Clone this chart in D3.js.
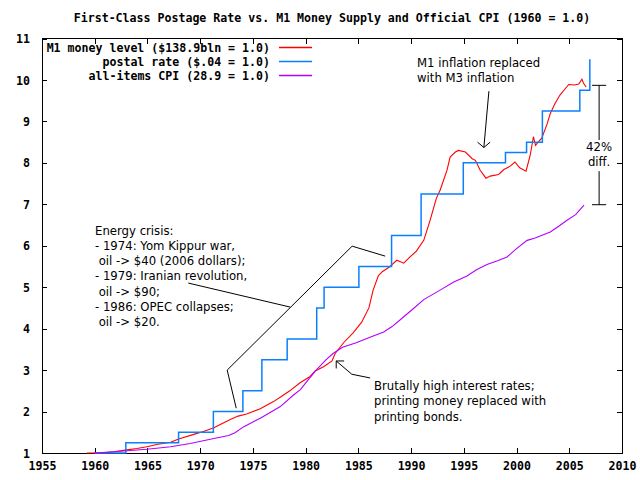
<!DOCTYPE html>
<html><head><meta charset="utf-8">
<script src="https://cdn.jsdelivr.net/npm/d3@7"></script>
<style>body{margin:0;background:#fff}</style>
</head><body><svg id="c" width="640" height="480"></svg>
<script>
// ---- data ----
const m1Years = [1959.25,1960.0,1961.0,1961.8,1962.9,1964.0,1964.95,1966.0,1967.2,1967.95,1969.4,1970.3,1971.3,1972.0,1972.85,1973.6,1974.4,1975.7,1976.95,1977.8,1978.5,1979.5,1980.4,1980.9,1981.7,1982.5,1982.8,1983.6,1984.5,1985.3,1986.0,1986.4,1986.9,1987.3,1987.9,1988.65,1989.3,1989.9,1990.5,1991.2,1991.8,1992.4,1992.75,1993.4,1993.7,1994.2,1994.5,1995.15,1995.8,1996.1,1996.55,1997.1,1997.5,1998.3,1998.8,1999.4,1999.85,2000.3,2000.9,2001.3,2001.6,2001.8,2002.4,2002.9,2003.2,2003.65,2004.1,2004.65,2004.95,2005.5,2005.9,2006.2,2006.35,2006.6];
const m1Values = [1.00,1.00,1.01,1.03,1.07,1.11,1.15,1.21,1.26,1.34,1.45,1.52,1.61,1.70,1.81,1.89,1.94,2.07,2.24,2.38,2.50,2.70,2.84,2.98,3.08,3.22,3.40,3.66,3.90,4.15,4.50,4.93,5.28,5.38,5.48,5.65,5.58,5.73,5.87,6.13,6.61,7.15,7.34,7.82,8.14,8.26,8.30,8.26,8.10,8.06,7.82,7.63,7.68,7.72,7.84,7.92,8.02,7.88,7.80,8.19,8.63,8.42,8.60,8.94,9.19,9.43,9.63,9.80,9.89,9.88,9.90,10.02,9.92,9.83];
const cpiYears = [1959.9,1961.8,1964.95,1967.2,1969.05,1971.3,1972.7,1973.3,1974.1,1975.7,1977.6,1978.85,1979.5,1980.2,1981.0,1981.9,1982.6,1983.5,1984.8,1986.1,1987.4,1988.2,1989.0,1990.2,1991.2,1992.75,1994.0,1995.3,1996.2,1997.2,1998.2,1999.1,2000.0,2001.0,2001.7,2003.2,2004.0,2004.75,2005.6,2006.4];
const cpiValues = [1.00,1.03,1.09,1.15,1.23,1.35,1.42,1.49,1.63,1.84,2.12,2.40,2.53,2.75,3.00,3.24,3.40,3.55,3.66,3.79,3.92,4.05,4.22,4.48,4.70,4.93,5.12,5.27,5.42,5.55,5.64,5.73,5.93,6.13,6.18,6.33,6.47,6.61,6.75,6.98];
const postalYears = [1960.0,1962.95,1967.95,1971.25,1974.05,1975.85,1978.25,1981.05,1981.75,1985.05,1988.15,1990.95,1994.95,1998.95,2000.95,2002.45,2006.0,2006.95];
const postalCents = [4,5,6,8,10,13,15,18,20,22,25,29,32,33,34,37,39,42];
const postalBase = 4;
const xTicks = [1955,1960,1965,1970,1975,1980,1985,1990,1995,2000,2005,2010];
const yTicks = [1,2,3,4,5,6,7,8,9,10,11];
const titleText = "First-Class Postage Rate vs. M1 Money Supply and Official CPI (1960 = 1.0)";
const legendLabels = ["M1 money level ($138.9bln = 1.0)", "postal rate ($.04 = 1.0)", "all-items CPI (28.9 = 1.0)"];
const seriesColors = ["#ff0000", "#0a80ff", "#b400ff"];
const energyText = ["Energy crisis:", "- 1974: Yom Kippur war,", " oil -> $40 (2006 dollars);", "- 1979: Iranian revolution,", " oil -> $90;", "- 1986: OPEC collapses;", " oil -> $20."];
const m3Text = ["M1 inflation replaced", "with M3 inflation"];
const ratesText = ["Brutally high interest rates;", "printing money replaced with", "printing bonds."];

// ---- layout ----
const L = 42, R = 622, T = 38.5, B = 453;
const svg = d3.select("#c");
const x = d3.scaleLinear().domain([1955, 2010]).range([L, R]);
const y = d3.scaleLinear().domain([1, 11]).range([B, T]);
const mono = "'DejaVu Sans Mono', monospace";
const sans = "'DejaVu Sans', sans-serif";

svg.append("rect").attr("width", 640).attr("height", 480).attr("fill", "#fff");

// title
svg.append("text").attr("x", (L + R) / 2).attr("y", 22).attr("text-anchor", "middle")
  .attr("font-family", mono).attr("font-weight", "bold").attr("font-size", "11.6px").text(titleText);

// axes (ticks inward all sides)
const tl = 5;
const axB = svg.append("g").attr("transform", `translate(0,${B})`)
  .call(d3.axisBottom(x).tickValues(xTicks).tickFormat(d3.format("d")).tickSizeInner(-tl).tickSizeOuter(0).tickPadding(9));
const axT = svg.append("g").attr("transform", `translate(0,${T})`)
  .call(d3.axisTop(x).tickValues(xTicks).tickFormat("").tickSizeInner(-tl).tickSizeOuter(0));
const axL = svg.append("g").attr("transform", `translate(${L},0)`)
  .call(d3.axisLeft(y).tickValues(yTicks).tickFormat(d3.format("d")).tickSizeInner(-tl).tickSizeOuter(0).tickPadding(12));
const axR = svg.append("g").attr("transform", `translate(${R},0)`)
  .call(d3.axisRight(y).tickValues(yTicks).tickFormat("").tickSizeInner(-tl).tickSizeOuter(0));
[axB, axT, axL, axR].forEach(g => {
  g.select(".domain").remove();
  g.selectAll("line").attr("stroke", "#000").attr("shape-rendering", "crispEdges");
  g.selectAll("text").attr("font-family", mono).attr("font-weight", "bold").attr("font-size", "11.6px").attr("fill", "#000");
});
axL.selectAll("text").attr("dy", "0.35em");
svg.append("rect").attr("x", L).attr("y", T).attr("width", R - L).attr("height", B - T)
  .attr("fill", "none").attr("stroke", "#000").attr("shape-rendering", "crispEdges");

// series
const lineGen = d3.line().x(d => x(d[0])).y(d => y(d[1]));
const stepGen = d3.line().x(d => x(d[0])).y(d => y(d[1])).curve(d3.curveStepAfter);
const m1 = m1Years.map((d, i) => [d, m1Values[i]]);
const cpi = cpiYears.map((d, i) => [d, cpiValues[i]]);
const postal = postalYears.map((d, i) => [d, postalCents[i] / postalBase]);

svg.append("path").attr("d", lineGen(m1)).attr("fill", "none").attr("stroke", seriesColors[0]).attr("stroke-width", 1.1);
svg.append("path").attr("d", stepGen(postal)).attr("fill", "none").attr("stroke", seriesColors[1]).attr("stroke-width", 1.5);
svg.append("path").attr("d", lineGen(cpi)).attr("fill", "none").attr("stroke", seriesColors[2]).attr("stroke-width", 1.1);

// legend
const legY = [47.5, 61.5, 75.5];
const leg = svg.append("g");
legendLabels.forEach((t, i) => {
  leg.append("text").attr("x", 270).attr("y", legY[i] + 4).attr("text-anchor", "end")
    .attr("font-family", mono).attr("font-weight", "bold").attr("font-size", "11.6px").text(t);
  leg.append("path").attr("d", `M279,${legY[i]}H312`).attr("fill", "none")
    .style("stroke", seriesColors[i]).style("stroke-width", "1.3px");
});

// annotations (in data coordinates)
const ann = svg.append("g").attr("fill", "none").attr("stroke", "#000").attr("stroke-width", 1);
const pl = pts => ann.append("path").attr("d", d3.line().x(d => x(d[0])).y(d => y(d[1]))(pts));
// energy crisis bracket
pl([[1973.42, 2.08], [1972.56, 3.0], [1984.41, 5.99], [1987.54, 5.75]]);
pl([[1968.87, 5.10], [1978.54, 4.52]]);
// M1 -> M3 arrow
pl([[1997.38, 9.73], [1996.9, 8.37]]);
pl([[1996.3, 8.5], [1996.9, 8.37], [1997.5, 8.5]]);
// brutal rates arrow
pl([[1986.12, 2.81], [1984.38, 2.90], [1982.9, 3.22]]);
pl([[1983.65, 3.22], [1982.9, 3.22], [1982.9, 3.04]]);
// 42% bracket
pl([[2007.16, 9.87], [2008.5, 9.87]]);
pl([[2007.16, 6.99], [2008.5, 6.99]]);
pl([[2007.83, 9.87], [2007.83, 8.55]]);
pl([[2007.83, 7.8], [2007.83, 6.99]]);

const txt = (lines, x0, y0, anchor) => lines.forEach((t, i) =>
  svg.append("text").attr("x", x0).attr("y", y0 + i * 15.3).attr("text-anchor", anchor || "start")
    .attr("font-family", sans).attr("font-size", "11.7px")
    .style("white-space", "pre").text(t));
txt(energyText, 95, 234.5);
txt(m3Text, 417, 67);
txt(ratesText, 374, 390);
txt(["42%", "diff."], x(2007.83), 151, "middle");
</script>
</body></html>
